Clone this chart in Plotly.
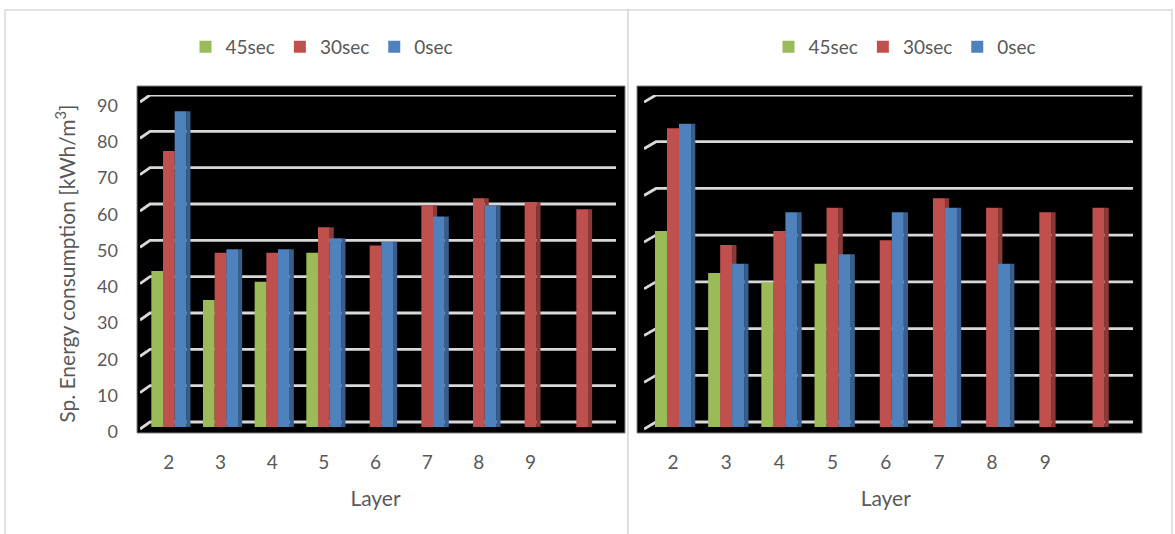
import plotly.graph_objects as go

W, H = 1175, 534

# ---- data -------------------------------------------------------------
layers = [1, 2, 3, 4, 5, 6, 7, 8, 9]
label_pos = [1, 2, 3, 4, 5, 6, 7, 8]
layer_labels = ["2", "3", "4", "5", "6", "7", "8", "9"]
series_names = ["45sec", "30sec", "0sec"]

left_45 = [43, 35, 40, 48, None, None, None, None, None]
left_30 = [76, 48, 48, 55, 50, 61, 63, 62, 60]
left_0 = [87, 49, 49, 52, 51, 58, 61, None, None]

right_45 = [42, 33, 31, 35, None, None, None, None, None]
right_30 = [64, 39, 42, 47, 40, 49, 47, 46, 47]
right_0 = [65, 35, 46, 37, 46, 47, 35, None, None]

left_ticks = [0, 10, 20, 30, 40, 50, 60, 70, 80, 90]
right_ticks = [0, 10, 20, 30, 40, 50, 60, 70]

# ---- styling ----------------------------------------------------------
FRONT = ["#9bbb59", "#c0504d", "#4f81bd"]
SIDE = ["#71893f", "#8c3a38", "#385f8c"]
TXT = "#595959"
FONT = "Lato, Open Sans, sans-serif"
GRID = "#d9d9d9"


def px(x):
    return x / W


def py(y):
    return 1 - y / H


fig = go.Figure()

BAR_W = 0.226
SIDE_W = 0.08
OFFSETS = [-0.339, -0.113, 0.113]


def add_wall_grid(ticks, xa, ya, lead, drop):
    # back-wall gridlines: a short slanted lead-in, then the horizontal run
    xs, ys = [], []
    for v in ticks:
        xs += [-lead, 0, 1, None]
        ys += [v - drop, v, v, None]
    fig.add_trace(go.Scatter(
        x=xs, y=ys, xaxis=xa, yaxis=ya, mode="lines",
        line=dict(color=GRID, width=2.8), showlegend=False, hoverinfo="skip"))


def add_panel(values, xa, ya, legend):
    # darker side faces first, so the neighbouring front face covers them
    for vals, off, col in zip(values, OFFSETS, SIDE):
        fig.add_trace(go.Bar(
            x=layers, y=vals, xaxis=xa, yaxis=ya, width=SIDE_W,
            offset=off + BAR_W, marker=dict(color=col, line=dict(width=0)),
            showlegend=False, hoverinfo="skip", legend=legend))
    for vals, off, col, name in zip(values, OFFSETS, FRONT, series_names):
        fig.add_trace(go.Bar(
            x=layers, y=vals, xaxis=xa, yaxis=ya, width=BAR_W, offset=off,
            name=name, marker=dict(color=col, line=dict(width=0)),
            showlegend=True, legend=legend))


# left panel: wall 0 at y=422px, 90 at y=95px; lead-in 10px wide, 7px drop
L_LEAD = 10 / 466
L_DROP = 7 / 36.33 * 10
add_wall_grid(left_ticks, "x", "y", L_LEAD, L_DROP)
add_panel([left_45, left_30, left_0], "x2", "y2", "legend")

# right panel: wall 0 at y=422px, 70 at y=95px; lead-in 12px wide, 7px drop
R_LEAD = 12 / 477
R_DROP = 7 / 46.71 * 10
add_wall_grid(right_ticks, "x3", "y3", R_LEAD, R_DROP)
add_panel([right_45, right_30, right_0], "x4", "y4", "legend2")

xtick_font = dict(family=FONT, size=19, color=TXT)
ytick_font = dict(family=FONT, size=18, color=TXT)
title_font = dict(family=FONT, size=21, color=TXT)
legend_font = dict(family=FONT, size=19, color=TXT)

bar_y_dom = [py(427), py(100.3)]
hidden = dict(showgrid=False, showticklabels=False, zeroline=False,
              showline=False, ticks="")

fig.update_layout(
    width=W, height=H,
    margin=dict(l=0, r=0, t=0, b=0, autoexpand=False),
    paper_bgcolor="white",
    plot_bgcolor="rgba(0,0,0,0)",
    barmode="overlay",
    font=dict(family=FONT, color=TXT),
    # back wall (left panel)
    xaxis=dict(domain=[px(140), px(616)], anchor="y",
               range=[-L_LEAD, 1], automargin=False, **hidden),
    yaxis=dict(domain=[py(422 + 2.5 * 3.633), py(95)], anchor="x",
               range=[-2.5, 90], automargin=False, **hidden),
    # bars (left panel)
    xaxis2=dict(domain=[px(143), px(608)], anchor="y2", range=[0.5, 9.5],
                tickmode="array", tickvals=label_pos, ticktext=layer_labels,
                tickfont=xtick_font, ticks="", ticklabelstandoff=22,
                showgrid=False, zeroline=False, showline=False, automargin=False,
                title=dict(text="Layer", font=title_font, standoff=19)),
    yaxis2=dict(domain=bar_y_dom, anchor="x2", range=[0, 90],
                tickmode="array", tickvals=left_ticks,
                tickfont=ytick_font, ticks="", ticklabelstandoff=24,
                ticklabelshift=5,
                showgrid=False, zeroline=False, showline=False, automargin=False,
                title=dict(text="Sp. Energy consumption [kWh/m<sup>3</sup>]",
                           font=dict(family=FONT, size=21, color=TXT),
                           standoff=15)),
    # back wall (right panel)
    xaxis3=dict(domain=[px(644), px(1133)], anchor="y3",
                range=[-R_LEAD, 1], automargin=False, **hidden),
    yaxis3=dict(domain=[py(422 + 2.0 * 4.671), py(95)], anchor="x3",
                range=[-2.0, 70], automargin=False, **hidden),
    # bars (right panel)
    xaxis4=dict(domain=[px(646.4), px(1125.1)], anchor="y4", range=[0.5, 9.5],
                tickmode="array", tickvals=label_pos, ticktext=layer_labels,
                tickfont=xtick_font, ticks="", ticklabelstandoff=22,
                showgrid=False, zeroline=False, showline=False, automargin=False,
                title=dict(text="Layer", font=title_font, standoff=19)),
    yaxis4=dict(domain=bar_y_dom, anchor="x4", range=[0, 70],
                automargin=False, **hidden),
    legend=dict(x=px(322), y=py(47), xanchor="center", yanchor="middle",
                orientation="h", bgcolor="rgba(0,0,0,0)", font=legend_font),
    legend2=dict(x=px(905), y=py(47), xanchor="center", yanchor="middle",
                 orientation="h", bgcolor="rgba(0,0,0,0)", font=legend_font),
    showlegend=True,
)

# chart-area frames and the black back walls
fig.add_shape(type="rect", xref="paper", yref="paper", layer="below",
              x0=px(5), x1=px(628), y0=py(560), y1=py(10),
              line=dict(color="#d9d9d9", width=1.5), fillcolor="white")
fig.add_shape(type="rect", xref="paper", yref="paper", layer="below",
              x0=px(628), x1=px(1172), y0=py(560), y1=py(10),
              line=dict(color="#d9d9d9", width=1.5), fillcolor="white")
fig.add_shape(type="rect", xref="paper", yref="paper", layer="below",
              x0=px(137), x1=px(625), y0=py(433), y1=py(86),
              line=dict(color="#808080", width=1), fillcolor="black")
fig.add_shape(type="rect", xref="paper", yref="paper", layer="below",
              x0=px(637), x1=px(1142), y0=py(433), y1=py(86),
              line=dict(color="#808080", width=1), fillcolor="black")

fig.write_html("out.html")
